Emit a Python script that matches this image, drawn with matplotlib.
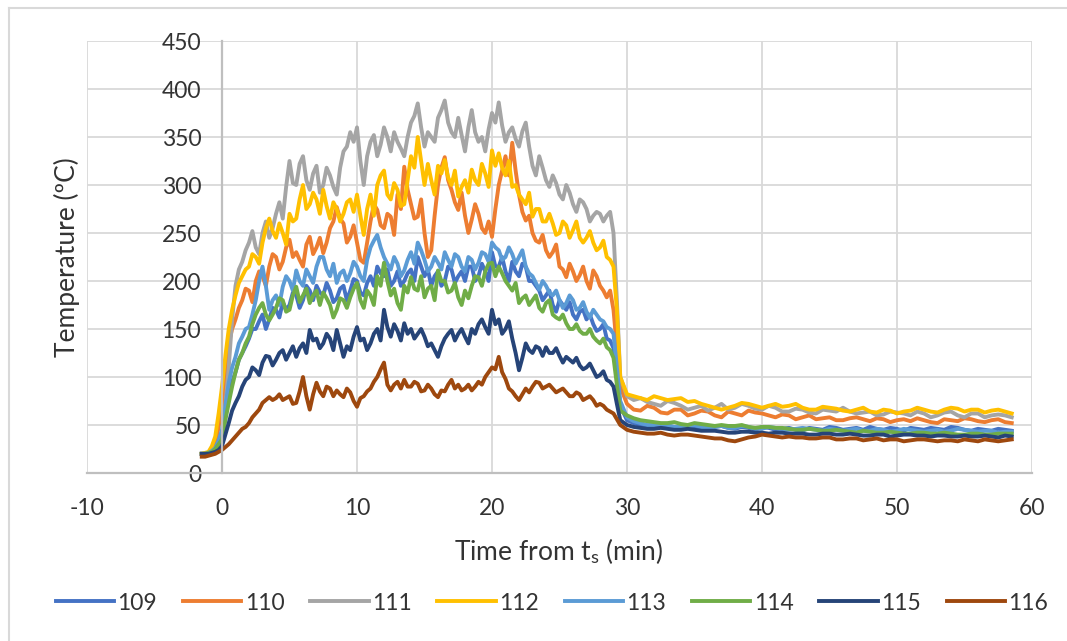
import numpy as np
import matplotlib.pyplot as plt
from matplotlib.lines import Line2D

plt.rcParams["font.family"] = ["Lato", "DejaVu Sans"]
plt.rcParams["mathtext.fontset"] = "custom"
plt.rcParams["mathtext.rm"] = "Lato"
plt.rcParams["mathtext.it"] = "Lato:italic"
plt.rcParams["axes.unicode_minus"] = False

# time axis (min from t_s): 0.25 min steps while burning, 0.5 min steps after
t_fire = np.arange(-1.5, 29.51, 0.25)
t_cool = np.arange(30, 58.51, 0.5)
time = np.concatenate([t_fire, t_cool])

labels = ["109", "110", "111", "112", "113", "114", "115", "116"]
colors = ["#4472C4", "#ED7D31", "#A5A5A5", "#FFC000",
          "#5B9BD5", "#70AD47", "#264478", "#9E480E"]

# --- fire phase readings at -1.5, -1.0 ... 29.5 min ---
fire_109 = [20, 21, 25, 40, 80, 105, 125, 140, 150, 165,
            160, 170, 178, 175, 185, 180, 190, 195, 185, 190,
            182, 195, 190, 200, 185, 205, 215, 205, 195, 210,
            200, 212, 225, 205, 195, 210, 200, 212, 205, 200,
            215, 205, 210, 230, 215, 210, 220, 205, 215, 200,
            190, 185, 175, 180, 170, 165, 168, 160, 155, 150,
            140, 130, 70]
fire_110 = [20, 21, 30, 70, 135, 160, 180, 190, 200, 205,
            215, 225, 220, 243, 230, 215, 246, 235, 229, 255,
            277, 260, 246, 240, 219, 262, 274, 255, 267, 290,
            319, 280, 267, 250, 232, 300, 329, 295, 274, 268,
            264, 270, 250, 246, 300, 330, 344, 290, 263, 250,
            240, 232, 230, 215, 204, 210, 206, 200, 211, 195,
            183, 170, 90]
fire_111 = [20, 21, 24, 35, 110, 195, 220, 240, 235, 250,
            245, 270, 265, 325, 300, 330, 295, 320, 300, 310,
            290, 335, 355, 360, 300, 345, 330, 360, 335, 345,
            330, 365, 385, 340, 350, 370, 388, 355, 370, 335,
            378, 345, 335, 375, 386, 345, 360, 340, 365, 320,
            330, 305, 310, 290, 300, 280, 285, 275, 268, 270,
            268, 250, 100]
fire_112 = [20, 22, 38, 90, 150, 185, 205, 215, 225, 240,
            265, 245, 250, 270, 265, 300, 280, 285, 295, 265,
            275, 270, 285, 290, 248, 290, 300, 315, 285, 295,
            280, 330, 350, 300, 305, 320, 326, 300, 288, 305,
            316, 300, 312, 336, 333, 310, 298, 290, 280, 267,
            275, 262, 260, 250, 258, 253, 245, 245, 240, 235,
            225, 215, 100]
fire_113 = [20, 21, 26, 45, 94, 121, 142, 152, 180, 215,
            170, 185, 194, 200, 211, 195, 205, 215, 225, 205,
            198, 211, 208, 215, 200, 235, 248, 225, 212, 218,
            211, 230, 240, 222, 215, 219, 230, 215, 225, 210,
            222, 219, 228, 240, 232, 225, 228, 225, 215, 205,
            191, 195, 185, 180, 177, 180, 172, 168, 170, 160,
            152, 145, 75]
fire_114 = [20, 21, 25, 35, 73, 105, 125, 142, 165, 177,
            159, 172, 180, 170, 194, 185, 177, 190, 188, 175,
            170, 180, 183, 198, 172, 185, 205, 219, 185, 177,
            195, 204, 190, 183, 195, 211, 200, 190, 183, 190,
            195, 204, 210, 219, 215, 200, 190, 177, 185, 180,
            172, 177, 165, 160, 156, 150, 148, 145, 142, 135,
            131, 120, 65]
fire_115 = [20, 20, 22, 28, 52, 73, 90, 100, 107, 115,
            121, 118, 128, 125, 121, 135, 149, 140, 135, 140,
            149, 121, 128, 152, 140, 135, 150, 170, 142, 148,
            156, 150, 145, 142, 135, 121, 140, 149, 145, 142,
            150, 155, 152, 170, 160, 150, 140, 107, 135, 125,
            130, 131, 125, 122, 121, 115, 112, 110, 107, 102,
            97, 90, 55]
fire_116 = [17, 18, 20, 24, 30, 38, 46, 52, 62, 73,
            79, 78, 76, 80, 73, 100, 66, 94, 80, 88,
            86, 79, 84, 69, 80, 88, 100, 115, 86, 95,
            97, 90, 93, 86, 88, 79, 85, 97, 92, 88,
            86, 95, 100, 110, 121, 98, 85, 76, 88, 90,
            94, 90, 88, 86, 84, 80, 82, 78, 76, 72,
            66, 62, 50]

# --- fire phase readings in between, at -1.25, -0.75 ... 29.25 min ---
mid_109 = [20, 22, 30, 60, 95, 118, 132, 150, 158, 150,
           172, 162, 170, 188, 172, 195, 180, 188, 198, 178,
           192, 180, 202, 188, 198, 195, 208, 212, 200, 195,
           208, 200, 215, 212, 205, 195, 215, 198, 210, 215,
           200, 218, 200, 215, 225, 200, 210, 218, 200, 195,
           180, 190, 168, 175, 178, 160, 170, 165, 148, 155,
           138, 100]
mid_110 = [20, 24, 48, 105, 150, 172, 192, 178, 210, 195,
           228, 212, 235, 225, 222, 238, 228, 245, 240, 262,
           265, 240, 258, 222, 240, 280, 258, 270, 248, 275,
           295, 265, 285, 225, 268, 318, 305, 282, 292, 250,
           280, 255, 262, 275, 315, 310, 315, 272, 268, 242,
           248, 225, 238, 212, 218, 200, 215, 192, 205, 190,
           190, 130]
mid_111 = [20, 22, 28, 70, 160, 212, 232, 252, 228, 262,
           255, 282, 298, 302, 322, 305, 312, 292, 318, 298,
           318, 340, 345, 325, 330, 352, 342, 350, 355, 338,
           350, 372, 360, 355, 345, 378, 365, 350, 352, 360,
           355, 350, 358, 365, 362, 355, 348, 356, 340, 310,
           318, 298, 302, 285, 292, 272, 282, 262, 272, 262,
           272, 180]
mid_112 = [21, 28, 62, 122, 170, 198, 212, 228, 218, 255,
           252, 260, 238, 262, 285, 275, 292, 270, 278, 282,
           262, 282, 272, 268, 275, 268, 310, 290, 302, 278,
           305, 318, 325, 322, 290, 312, 308, 315, 298, 292,
           305, 322, 298, 320, 318, 325, 300, 285, 292, 275,
           262, 270, 248, 262, 245, 262, 240, 252, 232, 242,
           222, 170]
mid_113 = [20, 23, 34, 70, 110, 135, 150, 165, 200, 195,
           180, 175, 205, 190, 200, 212, 198, 225, 212, 218,
           208, 200, 220, 205, 222, 242, 235, 218, 225, 205,
           222, 218, 232, 210, 225, 212, 222, 228, 215, 225,
           212, 230, 220, 235, 222, 235, 218, 232, 208, 198,
           200, 188, 190, 172, 185, 170, 178, 162, 165, 158,
           150, 110]
mid_114 = [20, 22, 30, 55, 90, 118, 135, 155, 172, 165,
           165, 182, 168, 185, 178, 192, 185, 175, 182, 162,
           182, 172, 192, 180, 190, 175, 195, 200, 192, 170,
           188, 192, 205, 192, 180, 200, 188, 198, 175, 182,
           205, 195, 218, 205, 208, 195, 198, 182, 175, 185,
           168, 180, 162, 165, 150, 155, 145, 150, 138, 140,
           128, 92]
mid_115 = [20, 21, 24, 40, 65, 80, 97, 110, 102, 122,
           112, 125, 118, 132, 130, 125, 138, 130, 145, 128,
           135, 132, 142, 138, 128, 145, 138, 152, 155, 138,
           145, 140, 150, 132, 128, 132, 145, 138, 150, 135,
           145, 160, 145, 155, 145, 158, 125, 120, 128, 132,
           122, 125, 130, 115, 118, 120, 108, 114, 100, 106,
           95, 72]
mid_116 = [17, 19, 22, 27, 34, 42, 48, 58, 66, 76,
           76, 82, 78, 72, 85, 80, 82, 85, 90, 80,
           82, 88, 75, 78, 85, 95, 108, 92, 92, 88,
           90, 95, 85, 92, 82, 86, 92, 88, 86, 92,
           90, 92, 105, 108, 105, 88, 80, 82, 84, 95,
           88, 92, 84, 88, 80, 84, 76, 80, 70, 70,
           64, 56]

# --- cooling phase readings at 30, 31 ... 58 min ---
cool_109 = [55, 50, 48, 49, 47, 48, 46, 49, 46, 47, 48, 45, 47, 44, 46,
            48, 45, 47, 48, 45, 46, 47, 45, 46, 48, 45, 46, 44, 45]
cool_110 = [72, 65, 68, 62, 66, 62, 64, 58, 62, 65, 62, 58, 60, 58, 56,
            58, 55, 58, 54, 56, 55, 54, 55, 52, 55, 57, 54, 55, 53]
cool_111 = [80, 78, 72, 75, 70, 68, 65, 72, 68, 70, 66, 68, 64, 66, 62,
            65, 68, 62, 64, 61, 63, 60, 62, 60, 64, 58, 62, 60, 60]
cool_112 = [82, 78, 80, 76, 78, 75, 70, 66, 70, 72, 68, 72, 70, 68, 66,
            68, 65, 66, 64, 66, 62, 65, 66, 63, 68, 64, 66, 65, 64]
cool_113 = [58, 52, 50, 50, 48, 50, 47, 49, 47, 48, 46, 47, 45, 47, 45,
            46, 44, 46, 44, 45, 44, 45, 43, 45, 44, 45, 43, 44, 43]
cool_114 = [60, 55, 53, 52, 51, 52, 50, 50, 49, 48, 48, 47, 46, 45, 45,
            44, 44, 42, 43, 42, 42, 41, 42, 41, 41, 40, 41, 40, 41]
cool_115 = [50, 47, 46, 46, 45, 45, 44, 43, 42, 43, 42, 42, 41, 41, 40,
            41, 40, 40, 39, 40, 39, 40, 39, 39, 38, 39, 38, 38, 39]
cool_116 = [45, 42, 41, 40, 40, 39, 37, 36, 33, 37, 40, 38, 38, 37, 36,
            37, 35, 36, 35, 34, 35, 34, 35, 33, 34, 35, 33, 34, 34]

# --- cooling phase readings at 30.5, 31.5 ... 58.5 min ---
cmid_109 = [52, 47, 50, 46, 49, 45, 48, 47, 48, 45, 47, 46, 45, 47, 45,
            47, 46, 45, 46, 47, 44, 46, 47, 45, 47, 44, 45, 46, 44]
cmid_110 = [66, 70, 63, 66, 60, 65, 60, 64, 60, 63, 60, 61, 56, 60, 57,
            55, 57, 56, 57, 53, 56, 57, 53, 56, 54, 56, 53, 56, 52]
cmid_111 = [76, 74, 70, 73, 66, 70, 68, 66, 72, 67, 70, 64, 67, 63, 66,
            64, 64, 63, 60, 64, 62, 64, 58, 63, 60, 62, 58, 61, 58]
cmid_112 = [80, 76, 78, 77, 74, 72, 68, 68, 73, 70, 70, 69, 72, 66, 69,
            67, 64, 68, 63, 65, 64, 68, 64, 66, 67, 66, 63, 66, 62]
cmid_113 = [54, 50, 51, 48, 49, 48, 48, 47, 49, 46, 48, 45, 46, 46, 44,
            45, 45, 44, 46, 43, 46, 44, 44, 43, 46, 44, 44, 42, 43]
cmid_114 = [57, 54, 52, 53, 50, 51, 49, 49, 50, 47, 48, 47, 45, 46, 44,
            45, 43, 44, 42, 43, 41, 42, 41, 42, 40, 41, 40, 41, 41]
cmid_115 = [48, 46, 47, 45, 46, 44, 44, 42, 43, 42, 41, 42, 41, 40, 41,
            40, 41, 39, 40, 38, 40, 39, 38, 39, 38, 38, 39, 37, 38]
cmid_116 = [43, 41, 42, 39, 40, 38, 36, 34, 35, 38, 39, 37, 37, 36, 37,
            35, 36, 34, 36, 35, 33, 35, 34, 34, 33, 34, 35, 33, 35]

fire = [fire_109, fire_110, fire_111, fire_112, fire_113, fire_114, fire_115, fire_116]
mids = [mid_109, mid_110, mid_111, mid_112, mid_113, mid_114, mid_115, mid_116]
cool = [cool_109, cool_110, cool_111, cool_112, cool_113, cool_114, cool_115, cool_116]
cmids = [cmid_109, cmid_110, cmid_111, cmid_112, cmid_113, cmid_114, cmid_115, cmid_116]


def interleave(a, b):
    out = np.empty(len(a) + len(b))
    out[0::2] = a
    out[1::2] = b
    return out


W, H = 1067, 641
fig = plt.figure(figsize=(W / 100, H / 100), dpi=100)
ax = fig.add_axes([87 / W, 1 - 473 / H, (1032 - 87) / W, (473 - 41) / H])

handles = []
for lab, col, f, m, c, cm in zip(labels, colors, fire, mids, cool, cmids):
    temp = np.concatenate([interleave(f, m), interleave(c, cm)])
    ln, = ax.plot(time, temp, color=col, lw=2.8, solid_joinstyle="round", label=lab)
    handles.append(ln)

ax.set_xlim(-10, 60)
ax.set_ylim(0, 450)
ax.set_xticks(range(-10, 61, 10))
ax.set_yticks(range(0, 451, 50))
ax.grid(True, color="#D9D9D9", lw=1.3)
ax.set_axisbelow(True)

for s in ["top", "right"]:
    ax.spines[s].set_visible(False)
ax.spines["left"].set_position(("data", 0))
ax.spines["left"].set_color("#BFBFBF")
ax.spines["left"].set_linewidth(1.6)
ax.spines["bottom"].set_color("#BFBFBF")
ax.spines["bottom"].set_linewidth(1.6)
ax.tick_params(axis="both", length=0, labelsize=16.5, labelcolor="#333333")
ax.tick_params(axis="y", pad=15)
ax.tick_params(axis="x", pad=18)

fig.text(67 / W, 1 - 257 / H, "Temperature (\u00baC)", rotation=90,
         ha="center", va="center", fontsize=19, color="#333333")
fig.text(559 / W, 1 - 551 / H, r"Time from t$_{\mathrm{s}}$ (min)",
         ha="center", va="center", fontsize=19, color="#333333")

fig.legend(handles, labels, loc="center", bbox_to_anchor=(552 / W, 1 - 603 / H),
           ncol=8, frameon=False, fontsize=16.5, handlelength=2.55,
           handletextpad=0.15, columnspacing=1.12, labelcolor="#333333")

# chart border (only top and left visible in the crop)
fig.add_artist(Line2D([9 / W, 9 / W], [0, 1 - 8 / H], transform=fig.transFigure,
                      color="#D9D9D9", lw=1.5))
fig.add_artist(Line2D([9 / W, 1], [1 - 8 / H, 1 - 8 / H], transform=fig.transFigure,
                      color="#D9D9D9", lw=1.5))

fig.savefig("out.png", dpi=100)
